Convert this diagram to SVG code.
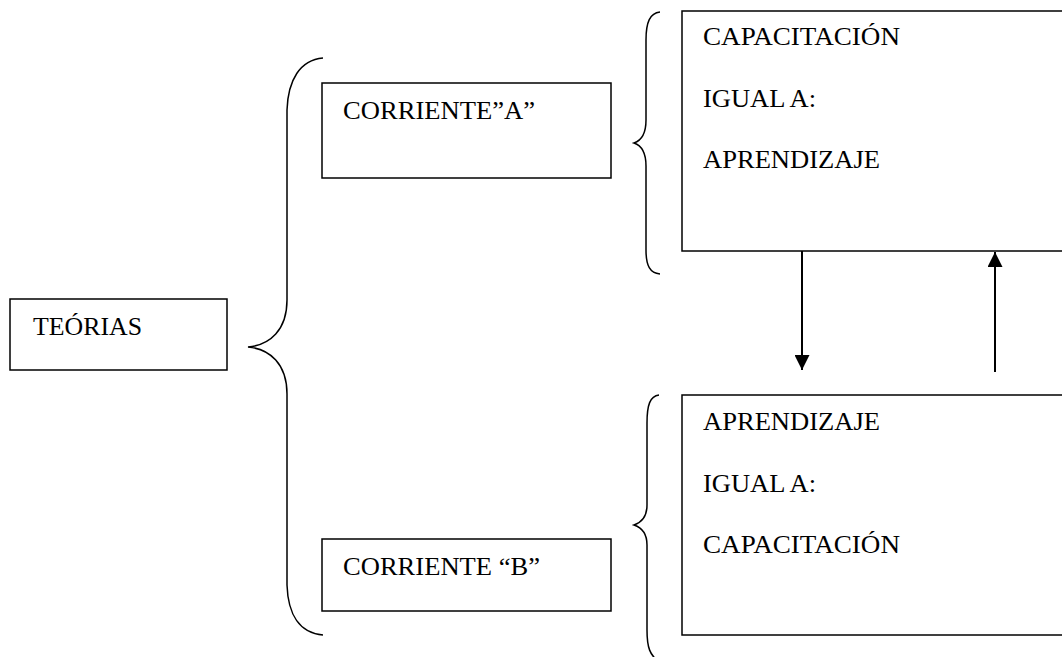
<svg xmlns="http://www.w3.org/2000/svg" width="1062" height="657" viewBox="0 0 1062 657">
<style>
.box{fill:#fff;stroke:#000;stroke-width:1.5}
.br{fill:none;stroke:#000;stroke-width:1.5}
.t{font-family:"Liberation Serif","Tinos","Noto Serif","DejaVu Serif","Times New Roman",serif;font-size:26px;fill:#000}
.c{stroke:#000;stroke-width:2;fill:none}
</style>
<defs>
<marker id="ah" viewBox="0 0 10 10" refX="10" refY="5" markerWidth="15" markerHeight="15" markerUnits="userSpaceOnUse" orient="auto">
<path d="M0,0 L10,5 L0,10 Z" fill="#000"/>
</marker>
</defs>
<rect width="1062" height="657" fill="#fff"/>
<g id="braces">
<path class="br" d="M323,58 C300,60 288,80 287,110 L287,300 C287,330 270,345 248,347 C270,349 287,364 287,394 L287,585 C288,615 300,633 323,635"/>
<path class="br" d="M660,12 C650,13 646,22 646,40 L646,120 C646,135 640,141 634,143 C640,145 646,151 646,166 L646,250 C646,266 650,273 660,274"/>
<path class="br" d="M659,395 C650,396 647,405 647,423 L647,505 C647,518 640,523 634,525 C640,527 647,532 647,545 L647,630 C647,648 650,655 659,662"/>
</g>
<g id="teorias">
<rect class="box" x="10" y="299" width="217" height="71"/>
<text class="t" x="33" y="335" textLength="109" lengthAdjust="spacingAndGlyphs">TEÓRIAS</text>
</g>
<g id="corrienteA">
<rect class="box" x="322" y="83" width="289" height="95"/>
<text class="t" x="343" y="119" textLength="192" lengthAdjust="spacingAndGlyphs">CORRIENTE”A”</text>
</g>
<g id="corrienteB">
<rect class="box" x="322" y="539" width="289" height="72"/>
<text class="t" x="343" y="575" textLength="197" lengthAdjust="spacingAndGlyphs">CORRIENTE “B”</text>
</g>
<g id="capacitacion">
<rect class="box" x="682" y="11" width="390" height="240"/>
<text class="t" x="703" y="45" textLength="197" lengthAdjust="spacingAndGlyphs">CAPACITACIÓN</text>
<text class="t" x="703" y="107" textLength="113" lengthAdjust="spacingAndGlyphs">IGUAL A:</text>
<text class="t" x="703" y="168" textLength="177" lengthAdjust="spacingAndGlyphs">APRENDIZAJE</text>
</g>
<g id="aprendizaje">
<rect class="box" x="682" y="395" width="390" height="240"/>
<text class="t" x="703" y="430" textLength="177" lengthAdjust="spacingAndGlyphs">APRENDIZAJE</text>
<text class="t" x="703" y="492" textLength="113" lengthAdjust="spacingAndGlyphs">IGUAL A:</text>
<text class="t" x="703" y="553" textLength="197" lengthAdjust="spacingAndGlyphs">CAPACITACIÓN</text>
</g>
<g id="connectors">
<line class="c" x1="802" y1="251" x2="802" y2="370" marker-end="url(#ah)"/>
<line class="c" x1="995" y1="372" x2="995" y2="252" marker-end="url(#ah)"/>
</g>
</svg>
